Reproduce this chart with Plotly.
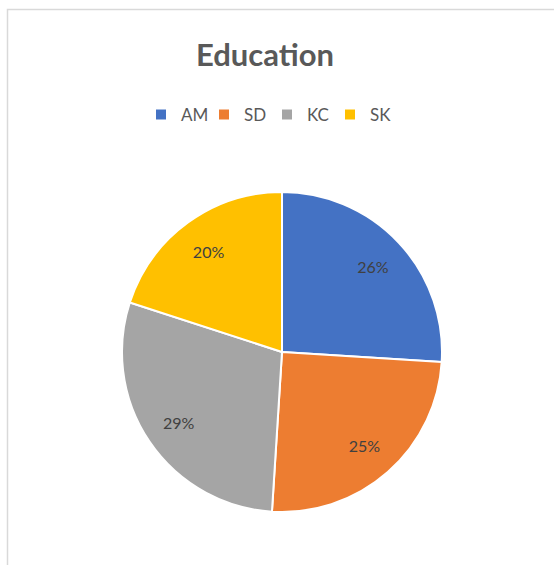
import plotly.graph_objects as go

categories = ["AM", "SD", "KC", "SK"]
values = [26, 25, 29, 20]
colors = ["#4472C4", "#ED7D31", "#A5A5A5", "#FFC000"]

W, H = 554, 565
FONT = "Lato, Open Sans, sans-serif"
dom = dict(x=[122 / W, 442 / W], y=[53 / H, 373 / H])

# coloured slices
fig = go.Figure(go.Pie(
    labels=categories,
    values=values,
    sort=False,
    direction="clockwise",
    rotation=0,
    marker=dict(colors=colors, line=dict(color="white", width=2)),
    textinfo="none",
    domain=dom,
    hoverinfo="label+percent",
))

# transparent ring carrying the percentage labels (pushes them outward like Excel)
fig.add_trace(go.Pie(
    labels=categories,
    values=values,
    sort=False,
    direction="clockwise",
    rotation=0,
    hole=0.56,
    marker=dict(colors=["rgba(0,0,0,0)"] * len(values), line=dict(width=0)),
    textinfo="percent",
    textposition="inside",
    insidetextorientation="horizontal",
    textfont=dict(family=FONT, size=16, color="#404040"),
    domain=dom,
    showlegend=False,
    hoverinfo="skip",
))

fig.update_layout(
    width=W, height=H,
    margin=dict(l=0, r=0, t=0, b=0),
    paper_bgcolor="white",
    title=dict(text="<b>Education</b>", x=265 / W, xanchor="center", y=1 - 55 / H, yanchor="middle",
               font=dict(family=FONT, size=31, color="#595959")),
    legend=dict(orientation="h", x=267 / W, xanchor="center", y=1 - 115 / H, yanchor="middle",
                font=dict(family=FONT, size=17, color="#595959"),
                entrywidth=18, entrywidthmode="pixels", traceorder="normal"),
    shapes=[dict(type="rect", xref="paper", yref="paper", x0=7.5 / W, x1=1.2, y0=-0.2, y1=1 - 9.5 / H,
                 line=dict(color="#D9D9D9", width=1.5), layer="below")],
)

fig.write_html("out.html", config={"displayModeBar": False},
               post_script="document.body.style.margin='0';")
